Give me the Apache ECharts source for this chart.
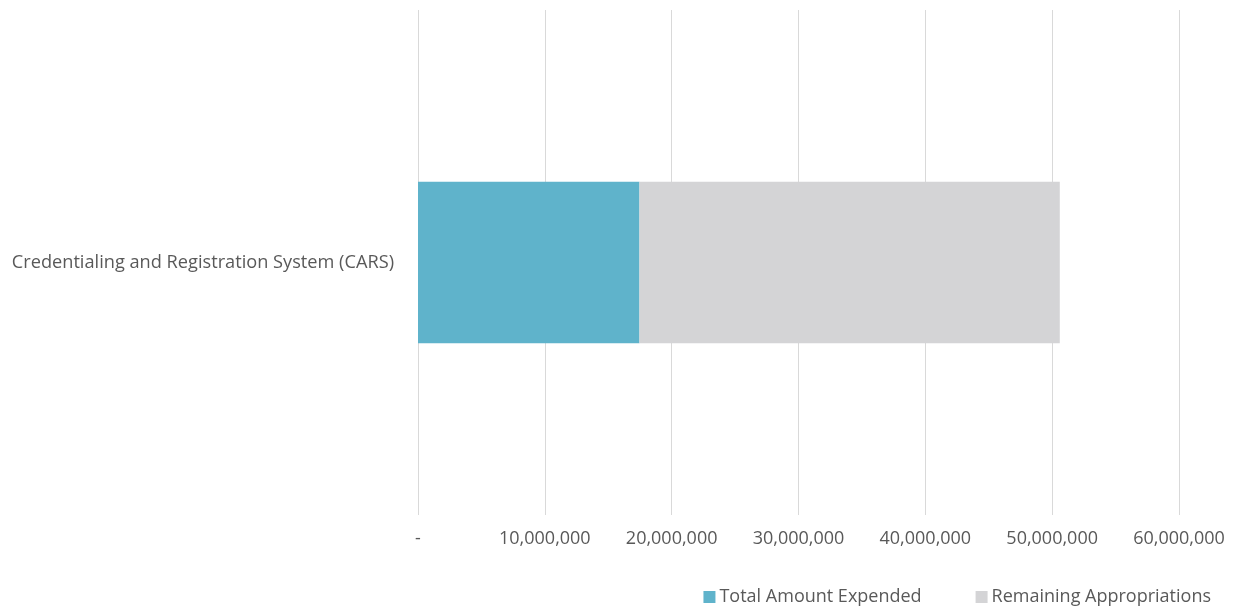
<!DOCTYPE html>
<html>
<head>
<meta charset="utf-8">
<script src="https://cdn.jsdelivr.net/npm/echarts@6/dist/echarts.min.js"></script>
<style>
  html, body { margin: 0; padding: 0; background: #fff; }
  #chart { width: 1235px; height: 607px; }
</style>
</head>
<body>
<div id="chart"></div>
<script>
// Project budget: amount spent vs. appropriations still available
const categories = ['Credentialing and Registration System (CARS)'];
const seriesNames = ['Total Amount Expended', 'Remaining Appropriations'];
const expended = [17460000];
const remaining = [33140000];
const axisMax = 60000000;
const axisStep = 10000000;

const textColor = '#595959';
const fontFamily = '"Open Sans", "Noto Sans", sans-serif';

const chart = echarts.init(document.getElementById('chart'));
chart.setOption({
  animation: false,
  grid: { left: 418, right: 56, top: 10, bottom: 92 },
  legend: {
    top: 583,
    right: 19,
    itemWidth: 12,
    itemHeight: 12,
    itemGap: 54,
    icon: 'rect',
    textStyle: { color: textColor, fontSize: 18, fontFamily: fontFamily, padding: [0, 0, 0, -1] },
    data: seriesNames
  },
  xAxis: {
    type: 'value',
    min: 0,
    max: axisMax,
    interval: axisStep,
    axisLine: { show: false },
    axisTick: { show: false },
    splitLine: { lineStyle: { color: '#d9d9d9', width: 1 } },
    axisLabel: {
      color: textColor,
      fontSize: 18,
      fontFamily: fontFamily,
      margin: 15,
      formatter: v => v === 0 ? '-' : v.toLocaleString('en-US')
    }
  },
  yAxis: {
    type: 'category',
    data: categories,
    axisLine: { show: false },
    axisTick: { show: false },
    axisLabel: { color: textColor, fontSize: 18.2, fontFamily: fontFamily, margin: 24, padding: [0, 0, 6, 0] }
  },
  series: [
    {
      name: seriesNames[0],
      type: 'bar',
      stack: 'total',
      data: expended,
      barCategoryGap: '68%',
      itemStyle: { color: '#5fb3cb' }
    },
    {
      name: seriesNames[1],
      type: 'bar',
      stack: 'total',
      data: remaining,
      itemStyle: { color: '#d4d4d6' }
    }
  ]
});
</script>
</body>
</html>
